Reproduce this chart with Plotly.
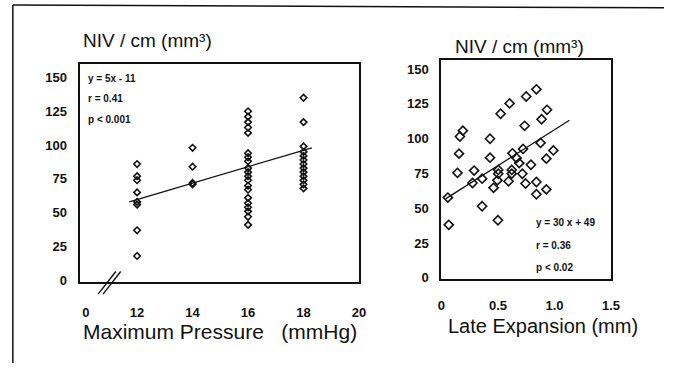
import plotly.graph_objects as go

W, H = 673, 369

# ---- Panel A: NIV per cm vs maximum inflation pressure ----
pressure_12 = [12, 12, 12, 12, 12, 12, 12, 12]
niv_12 = [86, 77, 74, 65, 58, 56, 37, 18]
pressure_14 = [14, 14, 14, 14]
niv_14 = [98, 84, 72, 71]
pressure_16 = [16] * 20
niv_16 = [125, 121, 117, 113, 109, 94, 91, 88, 83, 80,
          77, 74, 70, 67, 61, 57, 54, 51, 47, 41]
pressure_18 = [18] * 13
niv_18 = [135, 117, 99, 95, 92, 89, 86, 83, 80, 77, 74, 71, 68]

pressure_fit_x = [11.72, 18.3]
pressure_fit_y = [58, 98]

pressure_ticks = [10.15, 12, 14, 16, 18, 20]
pressure_ticktext = ["0", "12", "14", "16", "18", "20"]

# ---- Panel B: NIV per cm vs late expansion ----
late_expansion = [0.057, 0.065, 0.142, 0.156, 0.164, 0.19, 0.289, 0.275, 0.36, 0.36,
                  0.43, 0.43, 0.461, 0.50, 0.495, 0.503, 0.503, 0.524, 0.603, 0.594,
                  0.622, 0.622, 0.628, 0.688, 0.665, 0.722, 0.716, 0.744, 0.736, 0.75,
                  0.792, 0.84, 0.84, 0.84, 0.877, 0.886, 0.934, 0.928, 0.928, 0.99]
niv_expansion = [57.6, 38.0, 75.4, 89.2, 101.5, 105.7, 77.0, 68.1, 71.2, 51.4,
                 99.9, 86.3, 64.6, 41.3, 70.0, 74.7, 77.5, 117.9, 125.3, 69.3,
                 77.5, 74.8, 89.4, 82.4, 86.0, 92.6, 74.7, 67.7, 109.2, 130.3,
                 81.2, 135.4, 68.8, 60.0, 96.9, 113.9, 120.7, 85.6, 63.5, 91.5]

expansion_fit_x = [0.037, 1.132]
expansion_fit_y = [56.7, 113.2]

niv_ticks = [0, 25, 50, 75, 100, 125, 150]
expansion_ticks = [0, 0.5, 1.0, 1.5]
expansion_ticktext = ["0", "0.5", "1.0", "1.5"]


def px(x):
    return x / W


def py(y):
    return 1 - y / H


FONT = "Liberation Sans, Arial, Helvetica, sans-serif"
INK = "#111111"

fig = go.Figure()

for xs, ys in [(pressure_12, niv_12), (pressure_14, niv_14),
               (pressure_16, niv_16), (pressure_18, niv_18)]:
    fig.add_trace(go.Scatter(
        x=xs, y=ys, mode="markers", xaxis="x", yaxis="y",
        marker=dict(symbol="diamond-open", size=5, color=INK, line=dict(width=1.6, color=INK)),
        showlegend=False, hoverinfo="skip"))

fig.add_trace(go.Scatter(
    x=pressure_fit_x, y=pressure_fit_y, mode="lines", xaxis="x", yaxis="y",
    line=dict(color=INK, width=1.3), showlegend=False, hoverinfo="skip"))

fig.add_trace(go.Scatter(
    x=late_expansion, y=niv_expansion, mode="markers", xaxis="x2", yaxis="y2",
    marker=dict(symbol="diamond-open", size=7, color=INK, line=dict(width=1.6, color=INK)),
    showlegend=False, hoverinfo="skip"))

fig.add_trace(go.Scatter(
    x=expansion_fit_x, y=expansion_fit_y, mode="lines", xaxis="x2", yaxis="y2",
    line=dict(color=INK, width=1.3), showlegend=False, hoverinfo="skip"))

tickfont = dict(family=FONT, size=13, color=INK, weight="bold")
axis_common = dict(showgrid=False, zeroline=False, showline=True, mirror=True,
                   linecolor=INK, linewidth=2, ticks="", tickfont=tickfont)

fig.update_layout(
    width=W, height=H,
    margin=dict(l=0, r=0, t=0, b=0),
    paper_bgcolor="white", plot_bgcolor="white",
    xaxis=dict(domain=[px(78), px(362)], range=[9.96, 20.0],
               tickmode="array", tickvals=pressure_ticks, ticktext=pressure_ticktext,
               ticklabelstandoff=17, anchor="y", **axis_common),
    yaxis=dict(domain=[py(287), py(65)], range=[-1.5, 160],
               tickmode="array", tickvals=niv_ticks,
               ticklabelstandoff=9, anchor="x", **axis_common),
    xaxis2=dict(domain=[px(446), px(619)], range=[0, 1.5],
                tickmode="array", tickvals=expansion_ticks, ticktext=expansion_ticktext,
                ticklabelstandoff=13, anchor="y2", **axis_common),
    yaxis2=dict(domain=[py(284), py(61)], range=[-1.2, 156.5],
                tickmode="array", tickvals=niv_ticks,
                ticklabelstandoff=8, anchor="x2", **axis_common),
)

title_font = dict(family=FONT, size=19, color=INK)
label_font = dict(family=FONT, size=20, color=INK)
label_font_a = dict(family=FONT, size=21, color=INK)
stat_font = dict(family=FONT, size=10, color=INK, weight="bold")

annotations = [
    (79, 41, "NIV / cm (mm³)", title_font),
    (458, 47, "NIV / cm (mm³)", title_font),
    (79, 337, "Maximum Pressure\u00a0\u00a0\u00a0(mmHg)", label_font_a),
    (451, 331, "Late Expansion (mm)", label_font),
    (84, 80, "y = 5x - 11", stat_font),
    (84, 100, "r = 0.41", stat_font),
    (84, 121, "p &lt; 0.001", stat_font),
    (540, 226, "y = 30 x + 49", stat_font),
    (540, 250, "r = 0.36", stat_font),
    (540, 272, "p &lt; 0.02", stat_font),
]
fig.update_layout(annotations=[
    dict(x=px(x), y=py(y), xref="paper", yref="paper", text=t, showarrow=False,
         xanchor="left", yanchor="middle", font=f)
    for x, y, t, f in annotations
])

shapes = [
    # axis break on the pressure axis
    dict(type="line", xref="paper", yref="paper", x0=px(96), y0=py(299), x1=px(114), y1=py(276),
         line=dict(color=INK, width=1.4)),
    dict(type="line", xref="paper", yref="paper", x0=px(101), y0=py(299), x1=px(119), y1=py(276),
         line=dict(color=INK, width=1.4)),
    # page frame
    dict(type="line", xref="paper", yref="paper", x0=px(9), y0=py(5), x1=px(673), y1=py(8),
         line=dict(color=INK, width=1.5)),
    dict(type="line", xref="paper", yref="paper", x0=px(9), y0=py(5), x1=px(9), y1=py(369),
         line=dict(color=INK, width=1.5)),
]
fig.update_layout(shapes=shapes)

fig.write_html("out.html")
